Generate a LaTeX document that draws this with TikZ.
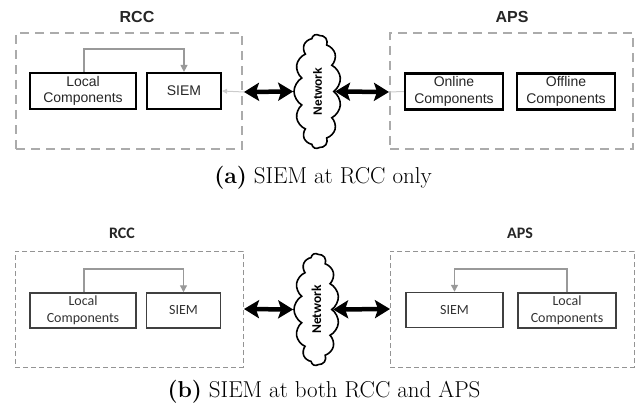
\documentclass[tikz,border=0pt]{standalone}
\usepackage{fontspec}
\newfontfamily\arialf{Liberation Sans}
\newfontfamily\calf{Carlito}
\usetikzlibrary{arrows.meta,shapes.symbols}

\tikzset{
  % component boxes, upper layout (Arial look) and lower layout (Calibri look)
  boxa/.style={draw=black, line width=2.2pt, minimum height=36pt, align=center,
    inner sep=0pt, text=black!85, font=\arialf\fontsize{14}{16.5}\selectfont},
  boxb/.style={draw=black!75, line width=1.5pt, minimum height=35pt, align=center,
    inner sep=0pt, text=black!80, font=\calf\fontsize{14}{17}\selectfont},
  % dashed site frames
  zonea/.style={draw=black!33, line width=2.2pt, dash pattern=on 9pt off 6pt, inner sep=0pt},
  zoneb/.style={draw=black!42, line width=1pt, dash pattern=on 5pt off 3pt, inner sep=0pt},
  % site titles
  laba/.style={font=\arialf\bfseries\fontsize{16}{18}\selectfont, text=black!85},
  labb/.style={font=\calf\bfseries\fontsize{16}{18}\selectfont, text=black!85},
  % internal data flow
  feed/.style={draw=black!40, line width=1.3pt, -{Triangle[length=7pt,width=7pt]}},
  faint/.style={draw=black!20, line width=1pt},
  % network links
  dbl/.style={line width=4.5pt,
    {Stealth[length=15pt 0,width=18pt 0,inset=3pt 0]}-{Stealth[length=15pt 0,width=18pt 0,inset=3pt 0]}},
  % network cloud
  net/.style={cloud, draw, line width=1.6pt, cloud puffs=13, cloud puff arc=120,
    cloud ignores aspect, rotate=90, inner sep=0pt},
  capt/.style={font=\fontsize{23}{28}\selectfont}
}

\begin{document}
\begin{tikzpicture}[x=1pt,y=-1pt]
\useasboundingbox (0,0) rectangle (635,404);

% ---------------- (a) SIEM at RCC only ----------------
\node[zonea, minimum width=226pt, minimum height=116pt] (rcca) at (129,91) {};
\node[zonea, minimum width=243pt, minimum height=116pt] (apsa) at (511.5,91) {};
\node[laba] (rccla) at (137,17) {RCC};
\node[laba] (apsla) at (512,17) {APS};

\node[boxa, minimum width=106pt] (lca) at (83,91) {Local\\Components};
\node[boxa, minimum width=74pt] (siema) at (184,91) {SIEM};
\node[boxa, minimum width=98pt] (onl) at (454,91.5) {Online\\Components};
\node[boxa, minimum width=98pt] (off) at (566,91.5) {Offline\\Components};

\node[net, minimum width=114pt, minimum height=47pt,
      font=\arialf\bfseries\fontsize{12}{14}\selectfont] (neta) at (317.5,91.5) {Network};

\coordinate (dla) at (244,92);
\coordinate (dra) at (389,92);

\draw[feed] (84,0 |- lca.north) -- (84,49) -| (siema.north);
\draw[faint, -{Triangle[length=5pt,width=5pt]}] (dla) -- (siema.east);
\draw[faint] (dra) -- (onl.west);
\draw[dbl] (dla) -- (neta.north);
\draw[dbl] (neta.south) -- (dra);

\node[capt, anchor=base] (capa) at (323,183) {\textbf{(a)} SIEM at RCC only};

% ---------------- (b) SIEM at both RCC and APS ----------------
\node[zoneb, minimum width=228pt, minimum height=116pt] (rccb) at (129,309) {};
\node[zoneb, minimum width=244pt, minimum height=116pt] (apsb) at (512,309) {};
\node[labb] (rcclb) at (122,233) {RCC};
\node[labb] (apslb) at (520,233) {APS};

\node[boxb, minimum width=106pt] (lcb) at (83,310.5) {Local\\Components};
\node[boxb, minimum width=74pt] (siemb) at (183.5,310.5) {SIEM};
\node[boxb, minimum width=97pt] (siemc) at (454.5,310) {SIEM};
\node[boxb, minimum width=98pt] (lcc) at (567,310.5) {Local\\Components};

\node[net, minimum width=112pt, minimum height=45pt,
      font=\calf\bfseries\fontsize{13.5}{15}\selectfont] (netb) at (316.5,309.5) {Network};

\coordinate (dlb) at (244,309);
\coordinate (drb) at (390,309);

\draw[feed] (84,0 |- lcb.north) -- (84,269) -| (siemb.north);
\draw[feed] (lcc.north) -- (lcc.north |- 0,269) -| (siemc.north);
\draw[dbl] (dlb) -- (netb.north);
\draw[dbl] (netb.south) -- (drb);

\node[capt, anchor=base] (capb) at (324,397) {\textbf{(b)} SIEM at both RCC and APS};
\end{tikzpicture}
\end{document}
